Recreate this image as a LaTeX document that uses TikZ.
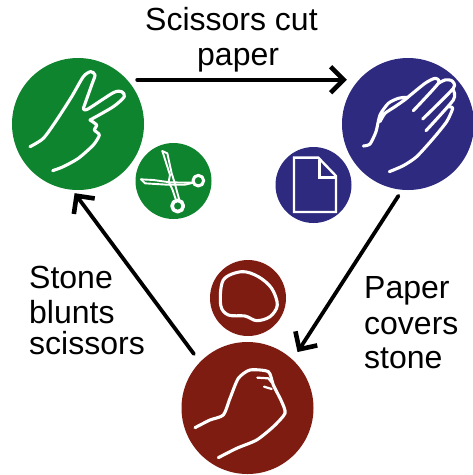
\documentclass[tikz,border=0pt]{standalone}
\usepackage{fontspec}
\setmainfont{Liberation Sans}
\usetikzlibrary{arrows.meta}
\definecolor{gr}{HTML}{0F842F}
\definecolor{bl}{HTML}{2E2A80}
\definecolor{rd}{HTML}{7E1C12}
\tikzset{
 big/.style={circle,inner sep=0pt,minimum size=132pt,fill=#1},
 small/.style={circle,inner sep=0pt,minimum size=76pt,fill=#1},
 link/.style={line width=3.8pt,-{Straight Barb[length=13pt,width=26pt,line width=4.6pt]},line cap=round},
 ink/.style={white,line width=3.1pt,line cap=round,line join=round},
 lab/.style={inner sep=0pt,font=\fontsize{32}{32}\selectfont,anchor=base west}
}
\begin{document}
\begin{tikzpicture}[x=1pt,y=-1pt]
\useasboundingbox (0,0) rectangle (473,475);
\fill[white] (0,0) rectangle (473,475);
\node[big=gr] (G) at (78,124) {};
\node[small=gr] (g) at (173.5,181) {};
\node[big=bl] (B) at (408,124) {};
\node[small=bl] (b) at (313.5,185) {};
\node[big=rd] (R) at (247.5,408) {};
\node[small=rd] (r) at (248,298) {};
\draw[link,shorten <=10pt,shorten >=12pt] (G.42) -- (B.138);
\draw[link,shorten <=7pt,shorten >=9pt] (B.-95) -- (R.47);
\draw[link,shorten <=10pt,shorten >=4pt] (R.136) -- (G.-95);
\node[lab] (t1) at (145,30) {Scissors cut};
\node[lab] (t2) at (197,65) {paper};
\node[lab] (t3) at (29,288) {Stone};
\node[lab] (t4) at (29,323) {blunts};
\node[lab] (t5) at (29,354) {scissors};
\node[lab] (t6) at (364,298) {Paper};
\node[lab] (t7) at (364,334) {covers};
\node[lab] (t8) at (364,368) {stone};
\begin{scope}[shift={(0,50)},x=1/3*1pt,y=-1/3*1pt]
\draw[ink] plot[smooth,tension=0.45] coordinates {(90,290)(130,265)(170,210)(215,140)(250,80)(272,65)(285,75)(275,105)(250,175)};
\draw[ink] plot[smooth,tension=0.45] coordinates {(250,175)(262,178)(340,128)(365,125)(373,140)(340,170)(270,210)};
\draw[ink] plot[smooth,tension=0.4] coordinates {(270,210)(290,225)(283,240)(298,255)(280,285)(235,325)(190,350)(158,362)};
\end{scope}
\begin{scope}[shift={(270,50)},x=1/3*1pt,y=-1/3*1pt]
\draw[ink] plot[smooth,tension=0.4] coordinates {(280,288)(300,282)(318,245)(330,195)(355,160)(385,145)(412,143)(375,170)(345,190)(330,215)};
\draw[ink] plot[smooth,tension=0.4] coordinates {(412,143)(465,100)(495,85)(505,100)(430,182)};
\draw[ink] plot[smooth,tension=0.4] coordinates {(505,100)(525,90)(545,92)(550,115)(458,207)};
\draw[ink] plot[smooth,tension=0.4] coordinates {(550,120)(550,150)(468,242)};
\draw[ink] plot[smooth,tension=0.4] coordinates {(535,170)(548,175)(530,215)(490,265)(440,320)(400,347)(358,365)};
\draw[ink,line width=2.4pt,line join=miter] (72,323) -- (145,323) -- (198,378) -- (198,486) -- (72,486) -- cycle;
\draw[ink,line width=2.4pt,line join=miter] (148,330) -- (148,382) -- (195,382);
\end{scope}
\begin{scope}[shift={(170,255)},x=1/3*1pt,y=-1/3*1pt]
\draw[ink] plot[smooth cycle,tension=0.55] coordinates {(160,75)(215,50)(265,65)(305,100)(322,150)(300,185)(260,197)(225,183)(175,180)(152,150)};
\draw[ink] plot[smooth,tension=0.4] coordinates {(75,518)(120,495)(160,480)(180,430)(205,370)(240,345)(295,350)(310,390)(335,440)(345,475)(310,515)(260,555)(200,580)(145,608)};
\draw[ink,line width=2.2pt] (262,368) -- (295,370) -- (305,382);
\draw[ink,line width=2.2pt] (282,395) -- (305,402);
\end{scope}
\begin{scope}[shift={(130,140)},x=1/3*1pt,y=-1/3*1pt]
\draw[ink,line width=1.9pt] (97,33) -- (112,40) -- (125,100) -- (133,125) -- (148,180);
\draw[ink,line width=1.9pt] (97,33) -- (120,105) -- (116,125) -- (128,150) -- (138,180);
\draw[ink,line width=1.9pt] (33,118) -- (70,120) -- (120,127) -- (187,128);
\draw[ink,line width=1.9pt] (33,118) -- (45,130) -- (110,134) -- (165,134) -- (190,128);
\draw[ink,line width=3pt] (205,122) circle (16);
\draw[ink,line width=3.6pt] (143,198) circle (17);
\end{scope}
\end{tikzpicture}
\end{document}
